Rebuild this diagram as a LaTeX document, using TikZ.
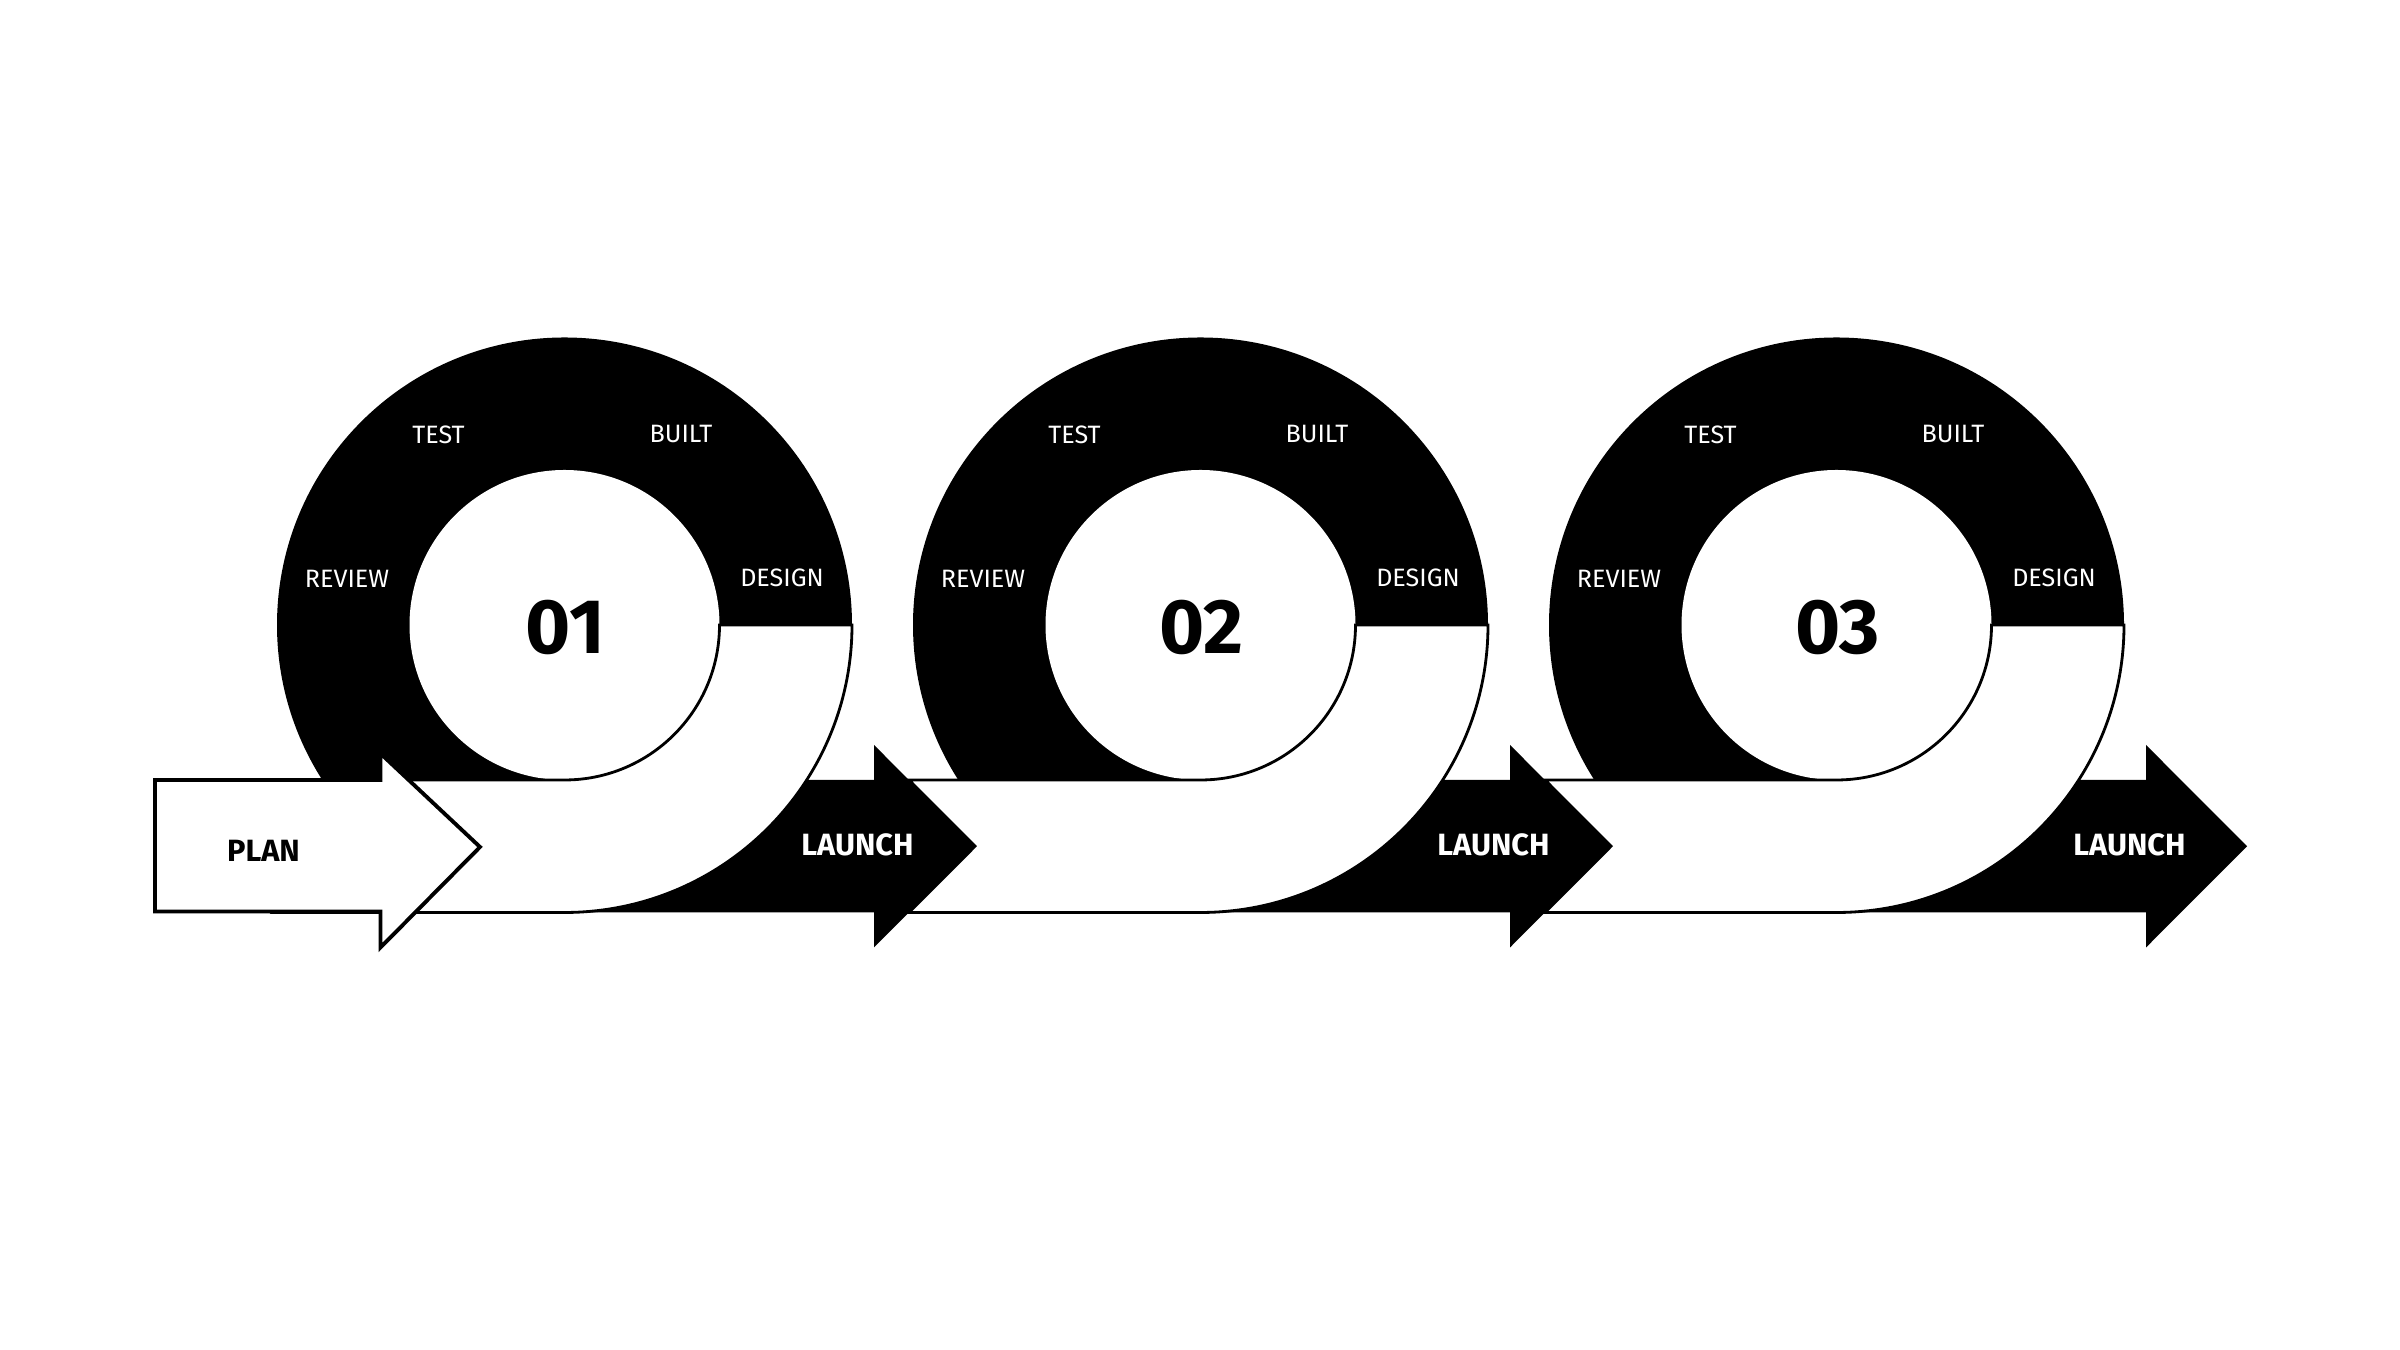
\documentclass[tikz,border=0pt]{standalone}
\usepackage{fontspec}
\setmainfont{Fira Sans}
\usepackage{tikz}

\tikzset{
        ribbon/.style={fill=white, draw=black, line width=1.6pt},
        planarrow/.style={fill=white, draw=black, line width=2.2pt},
        phase/.style={text=white, font=\fontsize{14.3}{16}\selectfont},
        stagenum/.style={font=\bfseries\fontsize{44}{48}\selectfont},
        launchtext/.style={text=white, font=\bfseries\fontsize{17.5}{20}\selectfont},
        plantext/.style={font=\bfseries\fontsize{17.5}{20}\selectfont}
}

\begin{document}
\begin{tikzpicture}
        \useasboundingbox (0,0) rectangle (48,27);
        \fill (11.29,14.5) circle (5.75);
        \fill (24.01,14.5) circle (5.75);
        \fill (36.73,14.5) circle (5.75);
        \fill[white] (11.29,14.5) circle (3.1);
        \fill[white] (24.01,14.5) circle (3.1);
        \fill[white] (36.73,14.5) circle (3.1);
        \fill (11.29,11.4) -- (17.48,11.4) -- (17.48,12.1) -- (19.5,10.075) -- (17.48,8.05) -- (17.48,8.75) -- (11.29,8.75) -- cycle;
        \fill (24.01,11.4) -- (30.2,11.4) -- (30.2,12.1) -- (32.22,10.075) -- (30.2,8.05) -- (30.2,8.75) -- (24.01,8.75) -- cycle;
        \fill (36.73,11.4) -- (42.92,11.4) -- (42.92,12.1) -- (44.94,10.075) -- (42.92,8.05) -- (42.92,8.75) -- (36.73,8.75) -- cycle;
        \draw[ribbon] (14.39,14.5) -- (17.04,14.5) arc [start angle=0, end angle=-90, radius=5.75] -- (5.46,8.75) -- (6.78,10.075) -- (5.46,11.4) -- (11.29,11.4) arc [start angle=-90, end angle=0, radius=3.1] -- cycle;
        \draw[ribbon] (27.11,14.5) -- (29.76,14.5) arc [start angle=0, end angle=-90, radius=5.75] -- (18.18,8.75) -- (19.5,10.075) -- (18.18,11.4) -- (24.01,11.4) arc [start angle=-90, end angle=0, radius=3.1] -- cycle;
        \draw[ribbon] (39.83,14.5) -- (42.48,14.5) arc [start angle=0, end angle=-90, radius=5.75] -- (30.9,8.75) -- (32.22,10.075) -- (30.9,11.4) -- (36.73,11.4) arc [start angle=-90, end angle=0, radius=3.1] -- cycle;
        \draw[planarrow] (3.1,11.4) -- (7.61,11.4) -- (7.61,11.93) -- (9.6,10.06) -- (7.61,8.05) -- (7.61,8.77) -- (3.1,8.77) -- cycle;
        \node[plantext] (plan) at (5.27,9.98) {PLAN};
        \node[stagenum] (num1) at (11.31,14.46) {01};
        \node[phase] (test1) at (8.77,18.31) {TEST};
        \node[phase] (built1) at (13.62,18.31) {BUILT};
        \node[phase] (review1) at (6.94,15.43) {REVIEW};
        \node[phase] (design1) at (15.64,15.45) {DESIGN};
        \node[launchtext] (launch1) at (17.15,10.11) {LAUNCH};
        \node[stagenum] (num2) at (24.03,14.46) {02};
        \node[phase] (test2) at (21.49,18.31) {TEST};
        \node[phase] (built2) at (26.34,18.31) {BUILT};
        \node[phase] (review2) at (19.66,15.43) {REVIEW};
        \node[phase] (design2) at (28.36,15.45) {DESIGN};
        \node[launchtext] (launch2) at (29.87,10.11) {LAUNCH};
        \node[stagenum] (num3) at (36.75,14.46) {03};
        \node[phase] (test3) at (34.21,18.31) {TEST};
        \node[phase] (built3) at (39.06,18.31) {BUILT};
        \node[phase] (review3) at (32.38,15.43) {REVIEW};
        \node[phase] (design3) at (41.08,15.45) {DESIGN};
        \node[launchtext] (launch3) at (42.59,10.11) {LAUNCH};
\end{tikzpicture}
\end{document}
